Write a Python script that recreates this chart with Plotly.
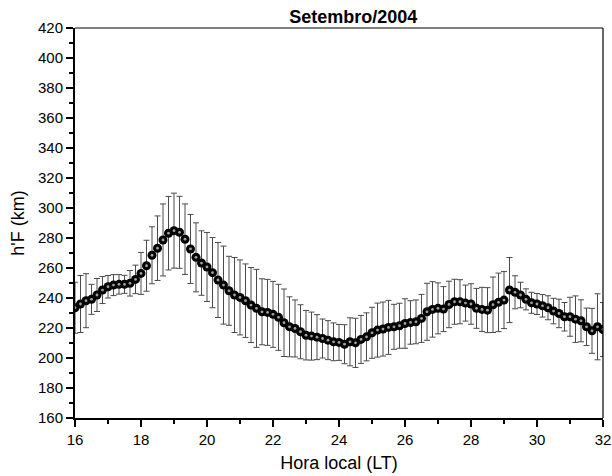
import plotly.graph_objects as go

# Local time grid: 10-minute samples from 16 LT to 32 LT
start_hour = 16.0
step_hour = 1.0 / 6.0

hf_mean = [
    233.5, 236.0, 238.2, 239.1, 242.0, 245.3, 247.5, 248.6, 249.1, 249.1,
    249.8, 252.4, 256.4, 261.5, 268.5, 273.2, 278.7, 283.2, 284.9, 283.8,
    279.2, 272.7, 267.1, 263.3, 260.7, 256.9, 252.0, 248.6, 244.8, 242.0,
    240.4, 238.2, 235.3, 233.1, 230.8, 230.4, 229.1, 227.1, 223.5, 220.8,
    219.7, 217.5, 215.2, 214.6, 213.9, 213.0, 211.9, 210.8, 210.4, 209.2,
    210.8, 210.1, 212.4, 214.1, 216.8, 218.6, 219.3, 220.4, 220.8, 221.5,
    223.0, 223.7, 224.1, 226.4, 230.8, 232.4, 233.1, 232.6, 235.7, 237.5,
    237.5, 236.6, 236.0, 233.1, 232.4, 231.9, 235.5, 237.1, 238.6, 245.3,
    243.8, 242.0, 239.1, 236.8, 236.0, 234.8, 233.5, 231.3, 229.7, 227.5,
    227.5, 225.9, 224.8, 220.8, 218.1, 220.8, 219.0,
]

hf_std = [
    17.0, 19.0, 18.0, 10.0, 11.0, 9.0, 7.5, 7.0, 6.5, 6.0,
    8.5, 9.5, 14.0, 17.0, 19.0, 21.5, 24.0, 24.5, 25.0, 24.0,
    23.5, 23.0, 23.0, 21.5, 23.0, 23.4, 25.0, 26.0, 23.0, 25.0,
    25.0, 24.5, 25.0, 26.0, 22.0, 22.0, 22.0, 22.0, 22.5, 20.0,
    19.0, 18.0, 16.5, 16.0, 15.0, 13.0, 13.0, 12.6, 12.0, 13.0,
    16.0, 16.4, 16.0, 16.0, 17.0, 18.0, 18.0, 18.0, 15.0, 15.0,
    16.5, 14.5, 14.6, 16.0, 19.0, 18.5, 17.0, 15.0, 15.5, 15.0,
    14.7, 12.0, 13.5, 13.3, 14.7, 15.0, 18.5, 19.5, 19.0, 21.7,
    11.0, 8.5, 7.0, 7.0, 7.0, 7.5, 8.0, 8.5, 9.5, 9.5,
    13.0, 15.5, 14.0, 12.5, 15.0, 22.0, 18.0,
]

hours = [start_hour + i * step_hour for i in range(len(hf_mean))]

x_ticks = [16, 18, 20, 22, 24, 26, 28, 30, 32]
y_ticks = list(range(160, 421, 20))

title_text = "Setembro/2004"
x_title = "Hora local (LT)"
y_title = "h'F (km)"

FONT = "Liberation Sans, Arial, sans-serif"

fig = go.Figure()
# error bars + dark ball bodies
fig.add_trace(go.Scatter(
    x=hours,
    y=hf_mean,
    mode="markers",
    marker=dict(size=9, color="#030303", line=dict(width=0)),
    error_y=dict(
        type="data",
        array=hf_std,
        visible=True,
        color="#4a4a4a",
        thickness=1,
        width=3,
    ),
    showlegend=False,
))
# small light highlight in each ball
fig.add_trace(go.Scatter(
    x=hours,
    y=hf_mean,
    mode="markers",
    marker=dict(size=2.8, color="#a0a0a0", line=dict(width=0)),
    showlegend=False,
    hoverinfo="skip",
))

fig.update_layout(
    width=612,
    height=476,
    margin=dict(l=75, r=9, t=28, b=58),
    paper_bgcolor="white",
    plot_bgcolor="white",
    font=dict(family=FONT, size=15, color="black"),
    title=dict(
        text="<b>" + title_text + "</b>",
        x=0.527, xref="paper", xanchor="center",
        y=1 - 17 / 476, yref="container", yanchor="middle",
        font=dict(family=FONT, size=18, color="black"),
    ),
    xaxis=dict(
        range=[16, 32],
        tickvals=x_ticks,
        ticktext=[str(v) for v in x_ticks],
        ticks="outside",
        ticklen=7,
        tickwidth=1.5,
        tickcolor="black",
        minor=dict(ticks="outside", ticklen=4, tickwidth=1.5, dtick=1, tickcolor="black"),
        showline=True,
        linecolor="black",
        linewidth=2,
        showgrid=False,
        zeroline=False,
        automargin=False,
        title=dict(text=x_title, font=dict(family=FONT, size=18), standoff=9),
        tickfont=dict(family=FONT, size=15),
    ),
    yaxis=dict(
        range=[160, 420],
        tickvals=y_ticks,
        ticktext=[str(v) for v in y_ticks],
        ticks="outside",
        ticklen=7,
        tickwidth=1.5,
        tickcolor="black",
        minor=dict(ticks="outside", ticklen=4, tickwidth=1.5, dtick=10, tickcolor="black"),
        showline=True,
        linecolor="black",
        linewidth=2,
        showgrid=False,
        zeroline=False,
        automargin=False,
        title=dict(text=y_title, font=dict(family=FONT, size=18), standoff=9),
        tickfont=dict(family=FONT, size=15),
    ),
    shapes=[
        dict(type="line", xref="paper", yref="paper", x0=0, x1=1, y0=1, y1=1,
             line=dict(color="black", width=1.2)),
        dict(type="line", xref="paper", yref="paper", x0=1, x1=1, y0=0, y1=1,
             line=dict(color="black", width=1.2)),
    ],
)

fig.write_html(
    "out.html",
    config={"displayModeBar": False},
    post_script="document.body.style.margin='0';document.body.style.padding='0';",
)
